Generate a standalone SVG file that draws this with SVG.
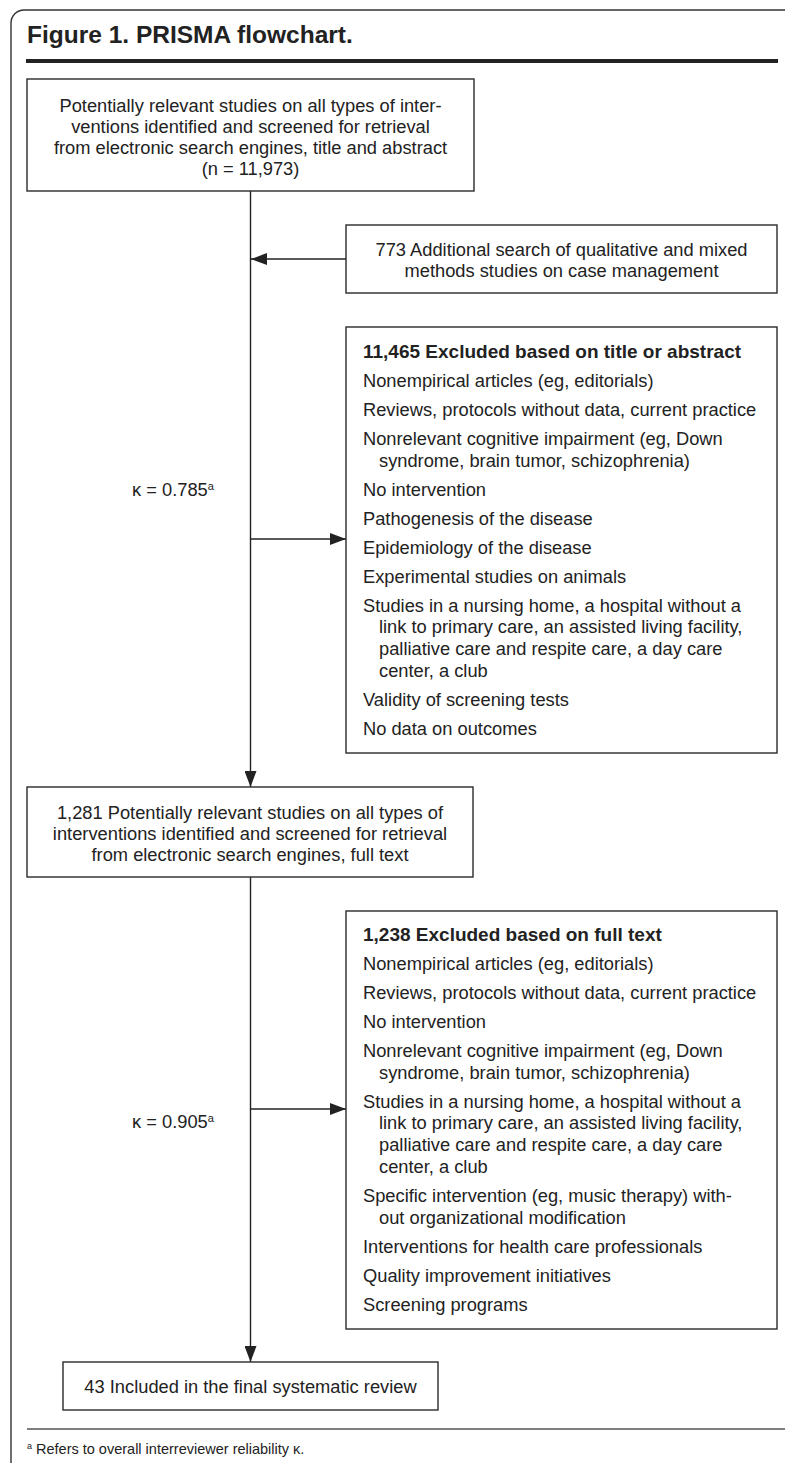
<svg xmlns="http://www.w3.org/2000/svg" width="785" height="1463" viewBox="0 0 785 1463">
<defs>
<style>
.box{fill:#fff;stroke:#2a2a2a;stroke-width:1.4}
.t{font-family:"Liberation Sans",Arial,sans-serif;font-size:18.3px;fill:#222}
.c{text-anchor:middle}
.h{font-weight:bold;font-size:19px}
.ln{stroke:#222;stroke-width:1.4;fill:none}
.sup{font-size:11px}
</style>
<marker id="ah" markerUnits="userSpaceOnUse" markerWidth="16" markerHeight="12" refX="16" refY="6" orient="auto">
<path d="M0,0 L16,6 L0,12 Z" fill="#222"/>
</marker>
</defs>
<rect width="785" height="1463" fill="#fff"/>
<g id="frame">
<path d="M11,1463 V23 A13,13 0 0 1 24,10 H785" fill="none" stroke="#333" stroke-width="1.4"/>
<text x="27" y="43" style="font-family:'Liberation Sans',Arial,sans-serif;font-size:24.5px;font-weight:bold;fill:#222">Figure 1. PRISMA flowchart.</text>
<rect x="26" y="59" width="752" height="4" fill="#222"/>
<line x1="27" y1="1429" x2="785" y2="1429" stroke="#555" stroke-width="1.5"/>
<text x="27" y="1454" class="t" style="font-size:14.5px"><tspan style="font-size:9px" dy="-5">a</tspan><tspan x="36" dy="5">Refers to overall interreviewer reliability κ.</tspan></text>
</g>
<g id="connectors">
<line class="ln" x1="250.5" y1="191" x2="250.5" y2="787" marker-end="url(#ah)"/>
<line class="ln" x1="250.5" y1="877" x2="250.5" y2="1362" marker-end="url(#ah)"/>
<line class="ln" x1="346" y1="259" x2="251" y2="259" marker-end="url(#ah)"/>
<line class="ln" x1="250.5" y1="539" x2="346" y2="539" marker-end="url(#ah)"/>
<line class="ln" x1="250.5" y1="1109" x2="346" y2="1109" marker-end="url(#ah)"/>
<text x="132" y="496" class="t">κ = 0.785<tspan class="sup" dy="-6">a</tspan></text>
<text x="132" y="1128" class="t">κ = 0.905<tspan class="sup" dy="-6">a</tspan></text>
</g>
<g id="n1">
<rect class="box" x="27" y="79" width="447" height="112"/>
<text class="t c" x="250.5" y="112">Potentially relevant studies on all types of inter-</text>
<text class="t c" x="250.5" y="133">ventions identified and screened for retrieval</text>
<text class="t c" x="250.5" y="154">from electronic search engines, title and abstract</text>
<text class="t c" x="250.5" y="175">(n = 11,973)</text>
</g>
<g id="n2">
<rect class="box" x="346" y="225" width="431" height="68"/>
<text class="t c" x="561.5" y="256">773 Additional search of qualitative and mixed</text>
<text class="t c" x="561.5" y="277">methods studies on case management</text>
</g>
<g id="n3">
<rect class="box" x="346" y="327" width="431" height="426"/>
<text class="t h" x="363" y="358">11,465 Excluded based on title or abstract</text>
<text class="t" x="363" y="387">Nonempirical articles (eg, editorials)</text>
<text class="t" x="363" y="416">Reviews, protocols without data, current practice</text>
<text class="t" x="363" y="445">Nonrelevant cognitive impairment (eg, Down</text>
<text class="t" x="379" y="466.7">syndrome, brain tumor, schizophrenia)</text>
<text class="t" x="363" y="495.7">No intervention</text>
<text class="t" x="363" y="524.7">Pathogenesis of the disease</text>
<text class="t" x="363" y="553.7">Epidemiology of the disease</text>
<text class="t" x="363" y="582.7">Experimental studies on animals</text>
<text class="t" x="363" y="611.7">Studies in a nursing home, a hospital without a</text>
<text class="t" x="379" y="633.4">link to primary care, an assisted living facility,</text>
<text class="t" x="379" y="655.1">palliative care and respite care, a day care</text>
<text class="t" x="379" y="676.8">center, a club</text>
<text class="t" x="363" y="705.8">Validity of screening tests</text>
<text class="t" x="363" y="734.8">No data on outcomes</text>
</g>
<g id="n4">
<rect class="box" x="27" y="787" width="446" height="90"/>
<text class="t c" x="250" y="819">1,281 Potentially relevant studies on all types of</text>
<text class="t c" x="250" y="840">interventions identified and screened for retrieval</text>
<text class="t c" x="250" y="861">from electronic search engines, full text</text>
</g>
<g id="n5">
<rect class="box" x="346" y="911" width="431" height="418"/>
<text class="t h" x="363" y="941">1,238 Excluded based on full text</text>
<text class="t" x="363" y="970">Nonempirical articles (eg, editorials)</text>
<text class="t" x="363" y="999">Reviews, protocols without data, current practice</text>
<text class="t" x="363" y="1028">No intervention</text>
<text class="t" x="363" y="1057">Nonrelevant cognitive impairment (eg, Down</text>
<text class="t" x="379" y="1078.7">syndrome, brain tumor, schizophrenia)</text>
<text class="t" x="363" y="1107.7">Studies in a nursing home, a hospital without a</text>
<text class="t" x="379" y="1129.4">link to primary care, an assisted living facility,</text>
<text class="t" x="379" y="1151.1">palliative care and respite care, a day care</text>
<text class="t" x="379" y="1172.8">center, a club</text>
<text class="t" x="363" y="1201.8">Specific intervention (eg, music therapy) with-</text>
<text class="t" x="379" y="1223.5">out organizational modification</text>
<text class="t" x="363" y="1252.5">Interventions for health care professionals</text>
<text class="t" x="363" y="1281.5">Quality improvement initiatives</text>
<text class="t" x="363" y="1310.5">Screening programs</text>
</g>
<g id="n6">
<rect class="box" x="63" y="1362" width="375" height="48"/>
<text class="t c" x="250.5" y="1393">43 Included in the final systematic review</text>
</g>
</svg>
